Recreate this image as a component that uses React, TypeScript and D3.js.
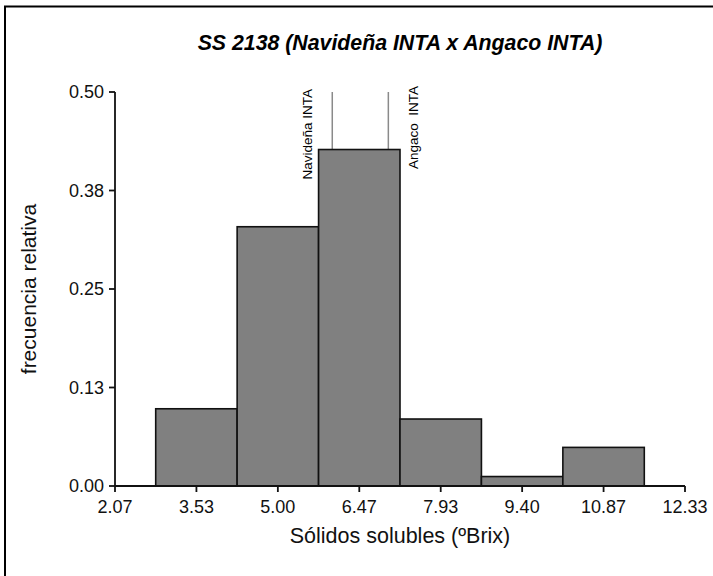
import React from "react";
import * as d3 from "d3";

// Histogram of soluble solids for the SS 2138 progeny
const binCenters = [3.5333, 5.0, 6.4667, 7.9333, 9.4, 10.8667];
const binWidth = 1.4667;
const relFreq = [0.098, 0.329, 0.427, 0.085, 0.012, 0.049];

const xTickValues = [2.0667, 3.5333, 5.0, 6.4667, 7.9333, 9.4, 10.8667, 12.3333];
const xTickLabels = ["2.07", "3.53", "5.00", "6.47", "7.93", "9.40", "10.87", "12.33"];
const yTickValues = [0, 0.125, 0.25, 0.375, 0.5];
const yTickLabels = ["0.00", "0.13", "0.25", "0.38", "0.50"];

// Parent values marked with vertical reference lines
const parentNames = ["Navideña INTA", "Angaco  INTA"];
const parentValues = [5.98, 6.99];

const title = "SS 2138 (Navideña INTA x Angaco INTA)";
const xTitle = "Sólidos solubles (ºBrix)";
const yTitle = "frecuencia relativa";

const W = 713;
const H = 576;
const font = "Arial, 'Liberation Sans', Helvetica, sans-serif";

export default function App() {
  const x = d3.scaleLinear().domain([2.0667, 12.3333]).range([115, 685]);
  const y = d3.scaleLinear().domain([0, 0.5]).range([486, 92]);
  const [y0, y1] = y.range();
  const [x0, x1] = x.range();

  return (
    <svg
      width={W}
      height={H}
      style={{ position: "absolute", left: 0, top: 0, background: "#fff" }}
      fontFamily={font}
    >
      <rect x={0} y={0} width={W} height={H} fill="#fff" />
      {/* outer frame */}
      <rect x={5} y={6.5} width={W + 20} height={H + 20} fill="none" stroke="#000" strokeWidth={2} />

      <text
        x={(x0 + x1) / 2}
        y={50}
        textAnchor="middle"
        fontSize={21.3}
        fontWeight="bold"
        fontStyle="italic"
        fill="#000"
      >
        {title}
      </text>

      {/* parent reference lines */}
      {parentValues.map((v, i) => (
        <line
          key={"pl" + i}
          x1={x(v)}
          x2={x(v)}
          y1={y(0.5)}
          y2={y(0)}
          stroke="#8a8a8a"
          strokeWidth={1.5}
        />
      ))}

      {/* bars */}
      {binCenters.map((c, i) => (
        <rect
          key={"b" + i}
          x={x(c - binWidth / 2)}
          y={y(relFreq[i])}
          width={x(c + binWidth / 2) - x(c - binWidth / 2)}
          height={y(0) - y(relFreq[i])}
          fill="#808080"
          stroke="#111"
          strokeWidth={1.6}
        />
      ))}

      {/* parent labels */}
      {parentValues.map((v, i) => {
        const lx = i === 0 ? x(v) - 20 : x(v) + 30;
        const ly = i === 0 ? 89 : 86;
        return (
          <text
            key={"pt" + i}
            transform={`translate(${lx},${ly}) rotate(-90)`}
            textAnchor="end"
            fontSize={13.5}
            fill="#000"
            style={{ whiteSpace: "pre" }}
          >
            {parentNames[i]}
          </text>
        );
      })}

      {/* y axis */}
      <line x1={x0} x2={x0} y1={y0} y2={y1} stroke="#111" strokeWidth={1.8} />
      {yTickValues.map((v, i) => (
        <g key={"yt" + i}>
          <line x1={x0 - 6} x2={x0} y1={y(v)} y2={y(v)} stroke="#111" strokeWidth={1.8} />
          <text x={x0 - 11} y={y(v)} dy="0.36em" textAnchor="end" fontSize={18} fill="#111">
            {yTickLabels[i]}
          </text>
        </g>
      ))}

      {/* x axis */}
      <line x1={x0} x2={x1} y1={y0} y2={y0} stroke="#111" strokeWidth={1.8} />
      {xTickValues.map((v, i) => (
        <g key={"xt" + i}>
          <line x1={x(v)} x2={x(v)} y1={y0} y2={y0 + 6} stroke="#111" strokeWidth={1.8} />
          <text x={x(v)} y={513} textAnchor="middle" fontSize={18} fill="#111">
            {xTickLabels[i]}
          </text>
        </g>
      ))}

      <text x={(x0 + x1) / 2} y={543} textAnchor="middle" fontSize={21.5} fill="#111">
        {xTitle}
      </text>
      <text
        transform={`translate(35.5,${(y0 + y1) / 2}) rotate(-90)`}
        textAnchor="middle"
        fontSize={21}
        fill="#111"
      >
        {yTitle}
      </text>
    </svg>
  );
}
